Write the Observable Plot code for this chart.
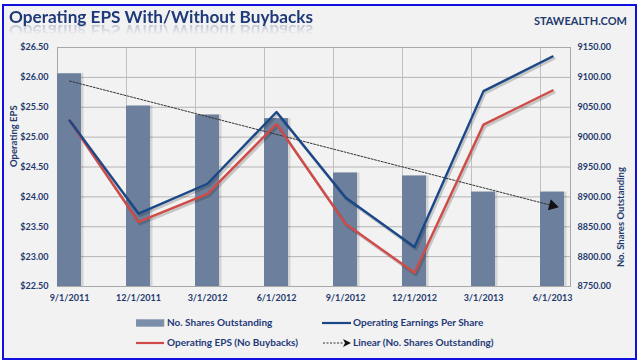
<!DOCTYPE html>
<html><head><meta charset="utf-8">
<script src="https://cdn.jsdelivr.net/npm/d3@7"></script>
<script src="https://cdn.jsdelivr.net/npm/@observablehq/plot@0.6"></script>
<style>
html,body{margin:0;padding:0;background:#fff;}
#box{position:absolute;left:2px;top:4px;width:631px;height:352px;border:2px solid #1010e0;background:#f2f2f2;}
#wrap{position:absolute;left:0;top:0;width:640px;height:363px;font-family:Lato,"Open Sans",sans-serif;color:#1f3a6e;}
#chart{position:absolute;left:0;top:0;}
.t{position:absolute;white-space:nowrap;font-weight:700;}
#title{left:9px;top:6px;font-size:17.2px;color:#1f3a78;-webkit-box-reflect:below -6px linear-gradient(transparent 35%,rgba(255,255,255,0.35));}
#site{right:13px;top:14px;font-size:11px;color:#1f3a6e;}
.lg{position:absolute;font-size:10px;font-weight:700;color:#1f3a78;white-space:nowrap;line-height:12px;}
.sw{position:absolute;}
</style></head><body>
<div id="wrap">
<div id="box"></div>
<div id="chart"></div>
<div class="t" id="title">Operating EPS With/Without Buybacks</div>
<div class="t" id="site">STAWEALTH.COM</div>
<div id="legend"></div>
</div>
<script>
const dates = ["9/1/2011","12/1/2011","3/1/2012","6/1/2012","9/1/2012","12/1/2012","3/1/2013","6/1/2013"];
const shares = [9106, 9052, 9037, 9031, 8940, 8935, 8908, 8908];
const epsWith = [25.28, 23.72, 24.22, 25.42, 23.99, 23.16, 25.77, 26.35];
const epsNoBuyback = [25.28, 23.58, 24.05, 25.22, 23.55, 22.73, 25.21, 25.78];
const epsTicks = [22.5, 23, 23.5, 24, 24.5, 25, 25.5, 26, 26.5];
const shareTicks = [8750, 8800, 8850, 8900, 8950, 9000, 9050, 9100, 9150];

// map shares onto the EPS axis (secondary axis)
const toEps = s => 22.5 + (s - 8750) / 100;
const toShares = e => 8750 + (e - 22.5) * 100;

const rows = dates.map((d, i) => ({date: d, i, shares: shares[i], sharesY: toEps(shares[i]), eps: epsWith[i], nb: epsNoBuyback[i]}));

// linear trend of shares
const n = shares.length;
const mx = d3.mean(rows, r => r.i), my = d3.mean(shares);
const slope = d3.sum(rows, r => (r.i - mx) * (r.shares - my)) / d3.sum(rows, r => (r.i - mx) ** 2);
const trend = [rows[0], rows[n - 1]].map(r => ({date: r.date, y: toEps(my + slope * (r.i - mx))}));

const txt = "#1f3a6e";
const plot = Plot.plot({
  width: 640, height: 310,
  marginLeft: 57, marginRight: 70, marginTop: 47, marginBottom: 24,
  style: {background: "transparent", fontFamily: "Lato, sans-serif", color: txt},
  x: {type: "band", domain: dates, paddingInner: 46/70, paddingOuter: 0, align: 0},
  y: {domain: [22.5, 26.5]},
  marks: [
    Plot.ruleY(epsTicks, {stroke: "#b4b4b4", strokeWidth: 1}),
    Plot.ruleX(dates, {stroke: "#c0c0c0", strokeWidth: 1, dx: -12, y1: 22.5, y2: 26.5}),
    Plot.frame({stroke: "#a8a8a8"}),
    Plot.barY(rows, {x: "date", y1: 22.5, y2: "sharesY", fill: "#000", fillOpacity: 0.12, dx: 2.5, dy: 0}),
    Plot.barY(rows, {x: "date", y1: 22.5, y2: "sharesY", fill: "#6c809d"}),
    Plot.line(trend, {x: "date", y: "y", stroke: "#333", strokeWidth: 1, strokeDasharray: "2,1.5"}),
    Plot.dot([trend[1]], {x: "date", y: "y", symbol: "triangle", r: 4.2, fill: "#111", stroke: "none", rotate: 104}),
    Plot.line(rows, {x: "date", y: "nb", stroke: "#000", strokeOpacity: 0.18, strokeWidth: 3, dx: 1.5, dy: 2}),
    Plot.line(rows, {x: "date", y: "eps", stroke: "#000", strokeOpacity: 0.18, strokeWidth: 3, dx: 1.5, dy: 2}),
    Plot.line(rows, {x: "date", y: "nb", stroke: "#d04b48", strokeWidth: 2.4}),
    Plot.line(rows, {x: "date", y: "eps", stroke: "#1a4787", strokeWidth: 2.4}),
    Plot.axisY(epsTicks, {anchor: "left", tickSize: 0, tickPadding: 9, tickFormat: d => "$" + d.toFixed(2), fontSize: 9, fontWeight: 700, fill: txt, label: null}),
    Plot.axisY(epsTicks, {anchor: "right", tickSize: 0, tickPadding: 7, tickFormat: d => toShares(d).toFixed(2), fontSize: 9, fontWeight: 700, fill: txt, label: null}),
    Plot.axisX({tickSize: 0, tickPadding: 8, fontSize: 9, fontWeight: 700, fill: txt, label: null}),
    Plot.text(["Operating EPS"], {frameAnchor: "left", dx: -44, rotate: -90, fontSize: 9.5, fontWeight: 700, fill: txt}),
    Plot.text(["No. Shares Outstanding"], {frameAnchor: "right", dx: 50, rotate: -90, fontSize: 9.5, fontWeight: 700, fill: txt})
  ]
});
document.getElementById("chart").appendChild(plot);

// legend
const legendItems = [
  {label: "No. Shares Outstanding", kind: "bar", x: 136, y: 323},
  {label: "Operating Earnings Per Share", kind: "blue", x: 322, y: 323},
  {label: "Operating EPS (No Buybacks)", kind: "red", x: 136, y: 343},
  {label: "Linear (No. Shares Outstanding)", kind: "trend", x: 322, y: 343}
];
const lg = document.getElementById("legend");
for (const it of legendItems) {
  const sw = document.createElementNS("http://www.w3.org/2000/svg", "svg");
  sw.setAttribute("class", "sw"); sw.setAttribute("width", 30); sw.setAttribute("height", 10);
  sw.style.left = it.x + "px"; sw.style.top = (it.y - 5) + "px";
  if (it.kind === "bar") sw.innerHTML = '<rect x="0" y="1.5" width="28" height="7" fill="#7c8faa" stroke="#8a9ab0" stroke-width="0.5"/>';
  if (it.kind === "blue") sw.innerHTML = '<line x1="0" x2="29" y1="5" y2="5" stroke="#1a4787" stroke-width="2.2"/>';
  if (it.kind === "red") sw.innerHTML = '<line x1="0" x2="28" y1="5" y2="5" stroke="#d04b48" stroke-width="2.2"/>';
  if (it.kind === "trend") sw.innerHTML = '<line x1="1" x2="22" y1="5" y2="5" stroke="#333" stroke-width="1" stroke-dasharray="2,1.5"/><path d="M21,1 L29,5 L21,9 L23,5 Z" fill="#111"/>';
  lg.appendChild(sw);
  const t = document.createElement("div");
  t.className = "lg"; t.textContent = it.label;
  t.style.left = (it.x + 31) + "px"; t.style.top = (it.y - 7) + "px";
  lg.appendChild(t);
}
</script>
</body></html>
